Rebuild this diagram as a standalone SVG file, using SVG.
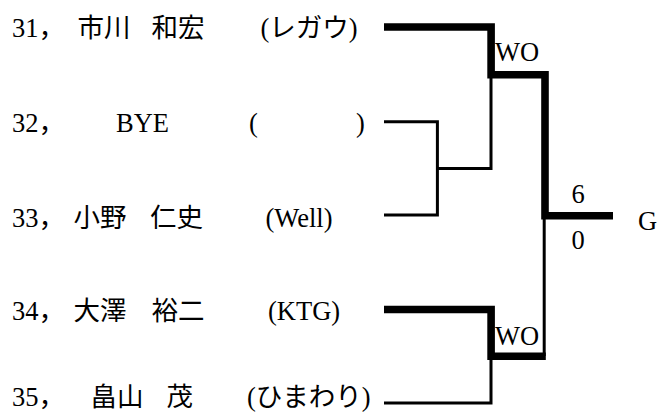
<svg xmlns="http://www.w3.org/2000/svg" width="660" height="417" viewBox="0 0 660 417">
<style>
text{font-family:"Liberation Serif","Noto Sans CJK JP",serif;font-size:26.5px;fill:#000}
.thin{fill:none;stroke:#000;stroke-width:3;stroke-linejoin:miter}
.thick{fill:none;stroke:#000;stroke-width:7.6;stroke-linejoin:miter;stroke-linecap:butt}
</style>
<rect width="660" height="417" fill="#fff"/>
<g id="connectors">
<path class="thin" d="M384,121.7 H437.4 V215 H384"/>
<path class="thin" d="M437.4,168.6 H491 V75"/>
<path class="thin" d="M544.2,216 V356"/>
<path class="thin" d="M491,356 V403 H384"/>
<path class="thick" d="M384,27 H491.1 V74.8 H545 V215.8 H613"/>
<path class="thick" d="M384,309.5 H491.1 V356.2 H545.8"/>
</g>
<g id="entry-31">
<text x="12" y="37.3">31，</text>
<text x="77.5" y="37.3">市川</text>
<text x="151.5" y="37.3">和宏</text>
<text x="260.5" y="37.3">(レガウ)</text>
</g>
<g id="entry-32">
<text x="12" y="131.7">32，</text>
<text x="116" y="131.7">BYE</text>
<text x="249" y="131.7">(</text>
<text x="356" y="131.7">)</text>
</g>
<g id="entry-33">
<text x="12" y="226.5">33，</text>
<text x="73.5" y="226.5">小野</text>
<text x="150" y="226.5">仁史</text>
<text x="265.5" y="226.5">(Well)</text>
</g>
<g id="entry-34">
<text x="12" y="320">34，</text>
<text x="73.5" y="320">大澤</text>
<text x="151.5" y="320">裕二</text>
<text x="268" y="320">(KTG)</text>
</g>
<g id="entry-35">
<text x="12" y="406">35，</text>
<text x="90.5" y="406">畠山</text>
<text x="166.5" y="406">茂</text>
<text x="247" y="406">(ひまわり)</text>
</g>
<g id="result-top"><text x="495" y="60.7">WO</text></g>
<g id="result-bottom"><text x="495" y="344.5">WO</text></g>
<g id="final-score">
<text x="571.5" y="203.3">6</text>
<text x="571.5" y="249">0</text>
</g>
<g id="winner"><text x="638" y="230">G</text></g>
</svg>
